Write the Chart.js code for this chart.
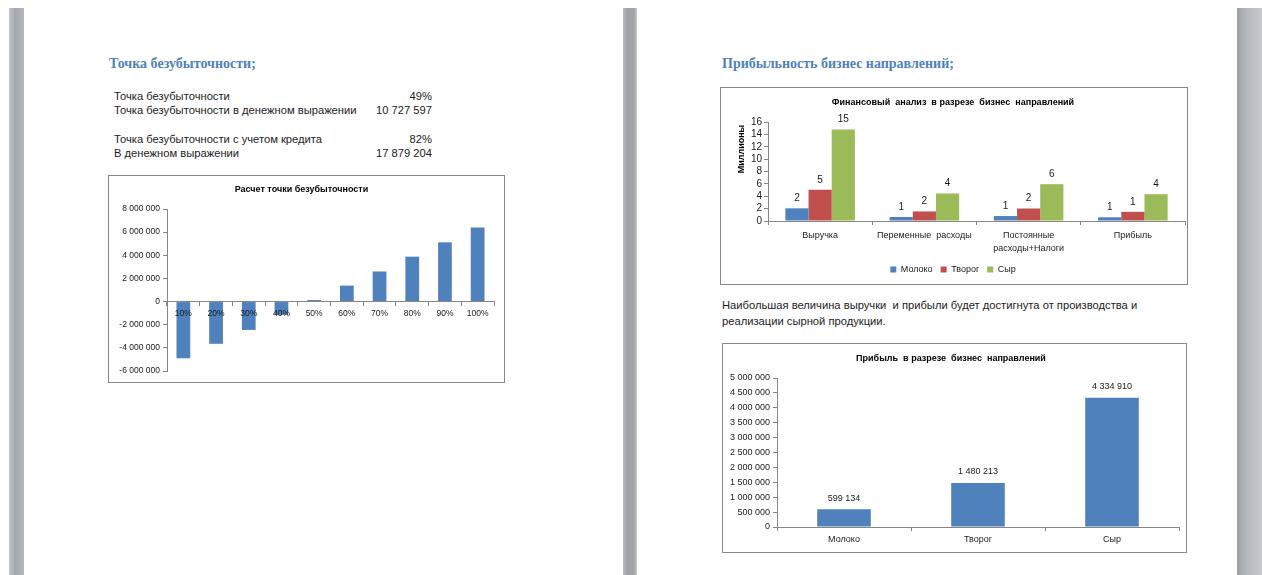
<!DOCTYPE html>
<html>
<head>
<meta charset="utf-8">
<script src="https://cdn.jsdelivr.net/npm/chart.js@4.4.1/dist/chart.umd.min.js"></script>
<style>
  body { margin: 0; width: 1262px; height: 575px; background: #fff; position: relative; overflow: hidden; font-family: "Liberation Sans", Arial, sans-serif; }
  .rail { position: absolute; top: 8px; bottom: 0; }
  .t { position: absolute; white-space: pre; font-size: 11.2px; line-height: 13px; color: #1c1c1c; }
  .num { text-align: right; }
  .h { position: absolute; white-space: pre; font: bold 14px/16px "Liberation Serif", serif; color: #4f81bd; }
  .box { position: absolute; border: 1px solid #8a8a8a; background: #fff; }
  canvas { display: block; }
</style>
</head>
<body>

<div class="rail" style="left:9px;width:15px;background:linear-gradient(to right,#c3c6cb,#a5a8ad 40%,#b4b7bc)"></div>
<div class="rail" style="left:623px;width:14px;background:linear-gradient(to right,#b8bbc0,#9fa2a7 30%,#a3a6ab 80%,#c7cacf)"></div>
<div class="rail" style="left:1237px;width:25px;background:linear-gradient(to right,#9da0a5,#b5b8bd 40%,#c6c9ce)"></div>

<div class="h" style="left:109px;top:56px">Точка безубыточности;</div>
<div class="t" style="left:114px;top:90px">Точка безубыточности</div>
<div class="t num" style="left:332px;top:90px;width:100px">49%</div>
<div class="t" style="left:114px;top:104px">Точка безубыточности в денежном выражении</div>
<div class="t num" style="left:332px;top:104px;width:100px">10 727 597</div>
<div class="t" style="left:114px;top:133px">Точка безубыточности с учетом кредита</div>
<div class="t num" style="left:332px;top:133px;width:100px">82%</div>
<div class="t" style="left:114px;top:147px">В денежном выражении</div>
<div class="t num" style="left:332px;top:147px;width:100px">17 879 204</div>

<div class="box" style="left:108px;top:175px;width:395px;height:206px"><canvas id="breakeven" width="395" height="206"></canvas></div>

<div class="h" style="left:722px;top:56px">Прибыльность бизнес направлений;</div>
<div class="box" style="left:720px;top:87px;width:466px;height:196px"><canvas id="directions" width="466" height="196"></canvas></div>
<div class="t" style="left:722px;top:299px">Наибольшая величина выручки  и прибыли будет достигнута от производства и</div>
<div class="t" style="left:722px;top:315px">реализации сырной продукции.</div>
<div class="box" style="left:722px;top:343px;width:463px;height:208px"><canvas id="profit" width="463" height="208"></canvas></div>

<script>
// точка безубыточности
const breakevenLabels = ['10%', '20%', '30%', '40%', '50%', '60%', '70%', '80%', '90%', '100%'];
const breakevenValues = [-4900000, -3650000, -2450000, -1150000, 130000, 1380000, 2600000, 3880000, 5120000, 6400000];
const breakevenTicks = [-6000000, -4000000, -2000000, 0, 2000000, 4000000, 6000000, 8000000];

// финансовый анализ, млн
const directionCategories = ['Выручка', 'Переменные  расходы', ['Постоянные', 'расходы+Налоги'], 'Прибыль'];
const directionSeries = ['Молоко', 'Творог', 'Сыр'];
const milkValues = [2.05, 0.65, 0.8, 0.6];
const tvorogValues = [5.05, 1.55, 2.02, 1.48];
const cheeseValues = [14.8, 4.45, 5.95, 4.33];
const directionTicks = [0, 2, 4, 6, 8, 10, 12, 14, 16];

// прибыль по направлениям
const profitCategories = ['Молоко', 'Творог', 'Сыр'];
const profitValues = [599134, 1480213, 4334910];
const profitTicks = [0, 500000, 1000000, 1500000, 2000000, 2500000, 3000000, 3500000, 4000000, 4500000, 5000000];

const BLUE = '#4f81bd', RED = '#c0504d', GREEN = '#9bbb59', AXIS = '#868686';

Chart.defaults.font.family = '"Liberation Sans", Arial, sans-serif';
Chart.defaults.color = '#1a1a1a';
Chart.defaults.animation = false;

function fmt(v) {
    return (v < 0 ? '-' : '') + String(Math.abs(v)).replace(/\B(?=(\d{3})+(?!\d))/g, ' ');
}

function valueLabels(format, font, offset) {
    return {
        id: 'valueLabels',
        afterDatasetsDraw(chart) {
            const ctx = chart.ctx;
            ctx.save();
            ctx.font = font;
            ctx.fillStyle = '#1a1a1a';
            ctx.textAlign = 'center';
            ctx.textBaseline = 'middle';
            chart.data.datasets.forEach((ds, i) => {
                chart.getDatasetMeta(i).data.forEach((bar, j) => {
                    ctx.fillText(format(ds.data[j]), bar.x, bar.y - offset);
                });
            });
            ctx.restore();
        }
    };
}

function fixedTicks(list) {
    return s => { s.ticks = list.map(v => ({ value: v })); };
}

function title(text, top, bottom) {
    return { display: true, text: text, font: { size: 9, weight: 'bold' }, color: '#000', padding: { top: top, bottom: bottom } };
}

function axisGrid() {
    return { drawOnChartArea: false, drawTicks: true, tickLength: 4, color: AXIS };
}

// --- график 1
new Chart(document.getElementById('breakeven'), {
    type: 'bar',
    data: {
        labels: breakevenLabels,
        datasets: [{ data: breakevenValues, backgroundColor: BLUE, categoryPercentage: 1, barPercentage: 0.42 }]
    },
    options: {
        responsive: false,
        layout: { padding: { left: 0, right: 10, top: 0, bottom: 11 } },
        plugins: { legend: { display: false }, tooltip: { enabled: false }, title: title('Расчет точки безубыточности', 8.6, 13.6) },
        scales: {
            x: {
                position: { y: 0 },
                afterFit: s => { s.height = 0; },
                grid: Object.assign(axisGrid(), { z: 1 }),
                border: { color: AXIS, z: 1 },
                // подписи поверх столбиков, как в Excel
                ticks: { z: 2, font: { size: 8.5 }, padding: 3, maxRotation: 0, autoSkip: false }
            },
            y: {
                min: breakevenTicks[0],
                max: breakevenTicks[breakevenTicks.length - 1],
                afterBuildTicks: fixedTicks(breakevenTicks),
                afterFit: s => { s.width = 58; },
                grid: axisGrid(),
                border: { color: AXIS },
                ticks: { font: { size: 8.5 }, padding: 3, autoSkip: false, callback: v => fmt(v) }
            }
        }
    }
});

// --- график 2
const unitsLabel = {
    id: 'unitsLabel',
    afterDraw(chart) {
        const ctx = chart.ctx, a = chart.chartArea;
        ctx.save();
        ctx.translate(a.left - 26, a.top + 27);
        ctx.rotate(-Math.PI / 2);
        ctx.font = 'bold 9px "Liberation Sans", Arial, sans-serif';
        ctx.fillStyle = '#000';
        ctx.textAlign = 'center';
        ctx.textBaseline = 'middle';
        ctx.fillText('Миллионы', 0, 0);
        ctx.restore();
    }
};

new Chart(document.getElementById('directions'), {
    type: 'bar',
    data: {
        labels: directionCategories,
        datasets: [
            { label: directionSeries[0], data: milkValues, backgroundColor: BLUE },
            { label: directionSeries[1], data: tvorogValues, backgroundColor: RED },
            { label: directionSeries[2], data: cheeseValues, backgroundColor: GREEN }
        ]
    },
    options: {
        responsive: false,
        datasets: { bar: { categoryPercentage: 0.667, barPercentage: 1 } },
        layout: { padding: { left: 0, right: 2, top: 0, bottom: 0 } },
        plugins: {
            tooltip: { enabled: false },
            title: title('Финансовый  анализ  в разрезе  бизнес  направлений', 9.6, 13.6),
            legend: {
                position: 'bottom',
                labels: { boxWidth: 6, boxHeight: 6, padding: 8, font: { size: 9 }, color: '#1a1a1a' }
            }
        },
        scales: {
            x: {
                afterFit: s => { s.height = 36; },
                grid: axisGrid(),
                border: { color: AXIS },
                ticks: { font: { size: 9, lineHeight: 1.45 }, padding: 4, maxRotation: 0, autoSkip: false }
            },
            y: {
                min: directionTicks[0],
                max: directionTicks[directionTicks.length - 1],
                afterBuildTicks: fixedTicks(directionTicks),
                afterFit: s => { s.width = 47; },
                grid: axisGrid(),
                border: { color: AXIS },
                ticks: { font: { size: 10 }, padding: 2, autoSkip: false }
            }
        }
    },
    plugins: [valueLabels(v => String(Math.round(v)), '10px "Liberation Sans", Arial, sans-serif', 10), unitsLabel]
});

// --- график 3
new Chart(document.getElementById('profit'), {
    type: 'bar',
    data: {
        labels: profitCategories,
        datasets: [{ data: profitValues, backgroundColor: BLUE, categoryPercentage: 1, barPercentage: 0.4 }]
    },
    options: {
        responsive: false,
        layout: { padding: { left: 0, right: 7, top: 0, bottom: 0 } },
        plugins: { legend: { display: false }, tooltip: { enabled: false }, title: title('Прибыль  в разрезе  бизнес  направлений', 9.6, 13.6) },
        scales: {
            x: {
                afterFit: s => { s.height = 25; },
                grid: axisGrid(),
                border: { color: AXIS },
                ticks: { font: { size: 9 }, padding: 3, maxRotation: 0, autoSkip: false }
            },
            y: {
                min: profitTicks[0],
                max: profitTicks[profitTicks.length - 1],
                afterBuildTicks: fixedTicks(profitTicks),
                afterFit: s => { s.width = 54; },
                grid: axisGrid(),
                border: { color: AXIS },
                ticks: { font: { size: 9 }, padding: 3, autoSkip: false, callback: v => fmt(v) }
            }
        }
    },
    plugins: [valueLabels(fmt, '9px "Liberation Sans", Arial, sans-serif', 11)]
});
</script>
</body>
</html>
